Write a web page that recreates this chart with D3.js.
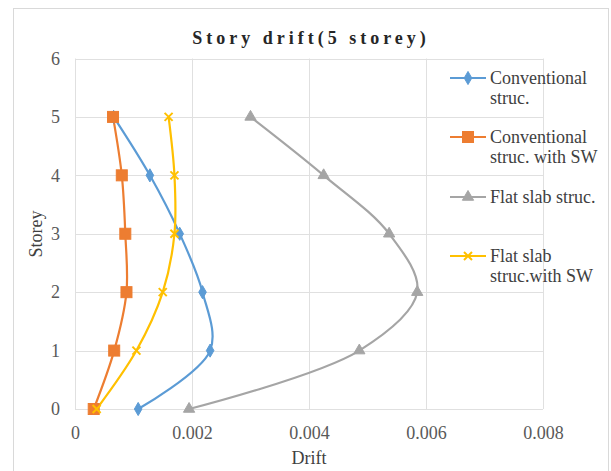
<!DOCTYPE html>
<html><head><meta charset="utf-8">
<script src="https://cdn.jsdelivr.net/npm/d3@7"></script>
<style>body{margin:0;background:#fff}svg{display:block}</style>
</head><body>
<svg id="c" width="611" height="471"></svg>
<script>
const storeys = [0, 1, 2, 3, 4, 5];
const seriesNames = [["Conventional", "struc."], ["Conventional", "struc. with SW"], ["Flat slab struc."], ["Flat slab", "struc.with SW"]];
const conventional = [0.00108, 0.00231, 0.00218, 0.00179, 0.00128, 0.00066];
const conventionalSW = [0.00032, 0.00067, 0.00088, 0.00086, 0.0008, 0.00065];
const flatSlab = [0.00195, 0.00486, 0.00585, 0.00537, 0.00425, 0.003];
const flatSlabSW = [0.00037, 0.00105, 0.0015, 0.0017, 0.0017, 0.0016];
const xTicks = [0, 0.002, 0.004, 0.006, 0.008];
const xTickLabels = ["0", "0.002", "0.004", "0.006", "0.008"];
const yTicks = [0, 1, 2, 3, 4, 5, 6];
const colors = ["#5B9BD5", "#ED7D31", "#A5A5A5", "#FFC000"];
const markers = ["diamond", "square", "triangle", "cross"];
const allSeries = [conventional, conventionalSW, flatSlab, flatSlabSW];

const svg = d3.select("#c");
const font = "Liberation Serif";
svg.append("rect").attr("x", 13.5).attr("y", 8.5).attr("width", 595).attr("height", 480)
  .attr("fill", "#fff").attr("stroke", "#d9d9d9");

const x = d3.scaleLinear().domain([0, 0.008]).range([75, 543]);
const y = d3.scaleLinear().domain([0, 6]).range([409, 58.5]);

const g = svg.append("g");
g.selectAll(".gx").data(xTicks).join("line")
  .attr("x1", d => Math.round(x(d)) + 0.5).attr("x2", d => Math.round(x(d)) + 0.5)
  .attr("y1", y(6)).attr("y2", y(0)).attr("stroke", "#e0e0e0");
g.selectAll(".gy").data(yTicks).join("line")
  .attr("y1", d => Math.round(y(d)) + 0.5).attr("y2", d => Math.round(y(d)) + 0.5)
  .attr("x1", x(0)).attr("x2", x(0.008)).attr("stroke", "#e0e0e0");

const xAxis = d3.axisBottom(x).tickValues(xTicks).tickFormat((d, i) => xTickLabels[i]).tickSize(0).tickPadding(17);
const xa = svg.append("g").attr("transform", `translate(0,${y(0)})`).call(xAxis)
  .attr("font-family", font).attr("font-size", 18);
xa.select(".domain").remove();
xa.selectAll("text").attr("fill", "#595959");
const yAxis = d3.axisLeft(y).tickValues(yTicks).tickFormat(d3.format("d")).tickSize(0).tickPadding(15);
const ya = svg.append("g").attr("transform", `translate(${x(0)},0)`).call(yAxis)
  .attr("font-family", font).attr("font-size", 18);
ya.select(".domain").remove();
ya.selectAll("text").attr("fill", "#595959");

svg.append("text").attr("x", 311).attr("y", 44).attr("text-anchor", "middle")
  .attr("font-family", font).attr("font-size", 18).attr("font-weight", "bold")
  .attr("letter-spacing", "4px").attr("fill", "#262626").text("Story drift(5 storey)");
svg.append("text").attr("x", 309).attr("y", 464).attr("text-anchor", "middle")
  .attr("font-family", font).attr("font-size", 18).attr("fill", "#404040").text("Drift");
svg.append("text").attr("transform", "translate(42,234) rotate(-90)").attr("text-anchor", "middle")
  .attr("font-family", font).attr("font-size", 18).attr("fill", "#404040").text("Storey");

function drawMarker(sel, type, color) {
  if (type === "diamond") {
    sel.append("path").attr("d", d3.symbol(d3.symbolDiamond, 50)()).attr("fill", color).attr("stroke", color);
  } else if (type === "square") {
    sel.append("rect").attr("x", -5.5).attr("y", -5.5).attr("width", 11).attr("height", 11).attr("fill", color).attr("stroke", color);
  } else if (type === "triangle") {
    sel.append("path").attr("d", d3.symbol(d3.symbolTriangle, 55)()).attr("fill", color).attr("stroke", color);
  } else {
    sel.append("path").attr("d", "M-4,-4L4,4M-4,4L4,-4").attr("stroke", color).attr("stroke-width", 2).attr("fill", "none");
  }
}

const line = d3.line().x(d => x(d[0])).y(d => y(d[1])).curve(d3.curveCatmullRom.alpha(0.5));
allSeries.forEach((vals, i) => {
  const pts = storeys.map((s, j) => [vals[j], s]);
  svg.append("path").datum(pts).attr("d", line).attr("fill", "none")
    .attr("stroke", colors[i]).attr("stroke-width", 2.2);
});
allSeries.forEach((vals, i) => {
  storeys.forEach((s, j) => {
    const m = svg.append("g").attr("transform", `translate(${x(vals[j])},${y(s)})`);
    drawMarker(m, markers[i], colors[i]);
  });
});

const legY = [78, 137, 197, 256];
seriesNames.forEach((lines, i) => {
  const lg = svg.append("g").attr("transform", `translate(450,${legY[i]})`);
  lg.append("line").attr("x1", 0).attr("x2", 36).attr("y1", 0).attr("y2", 0)
    .attr("stroke", colors[i]).attr("stroke-width", 2.2);
  const m = lg.append("g").attr("transform", "translate(18,0)");
  drawMarker(m, markers[i], colors[i]);
  lines.forEach((t, k) => {
    lg.append("text").attr("x", 40).attr("y", 6 + k * 20)
      .attr("font-family", font).attr("font-size", 18).attr("fill", "#404040").text(t);
  });
});
</script>
</body></html>
